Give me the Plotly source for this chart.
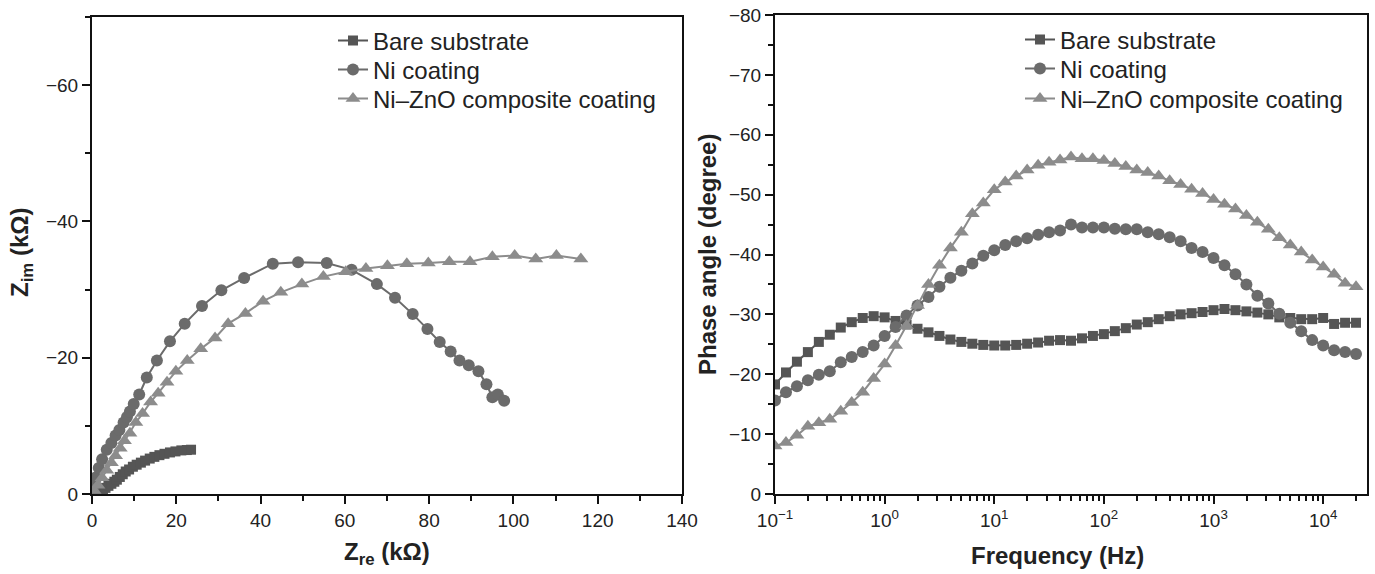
import plotly.graph_objects as go

# ---------------- Data ----------------
# Nyquist plot (kOhm)
bare_zre = [1.2, 1.6, 2.1, 2.6, 3.2, 3.9, 4.6, 5.3, 5.9, 6.6, 7.3, 8.0, 8.8, 9.7, 10.6,
            11.6, 12.6, 13.7, 14.8, 16.0, 17.2, 18.5, 19.8, 21.2, 22.5, 23.5]
bare_zim = [-0.1, -0.25, -0.4, -0.6, -0.9, -1.2, -1.5, -1.8, -2.1, -2.5, -2.9, -3.3, -3.6, -4.0, -4.3,
            -4.6, -4.9, -5.2, -5.45, -5.7, -5.9, -6.1, -6.25, -6.4, -6.45, -6.5]

ni_zre = [0.3, 0.85, 1.6, 2.4, 3.5, 4.6, 5.6, 6.5, 7.5, 8.3, 9.0, 9.9, 11.2, 13.0, 15.4,
          18.5, 22.0, 26.1, 30.7, 36.1, 42.9, 48.9, 55.7, 61.6, 67.6, 71.9, 76.1, 79.6,
          82.5, 85.1, 87.2, 89.4, 91.7, 93.6, 95.0, 96.3, 97.8]
ni_zim = [-1.1, -2.4, -3.8, -5.1, -6.5, -7.5, -8.6, -9.4, -10.5, -11.3, -12.1, -13.2, -14.6, -17.1, -19.6,
          -22.4, -25.0, -27.6, -29.9, -31.7, -33.8, -34.0, -33.9, -32.9, -30.8, -28.8, -26.4, -24.2,
          -22.3, -20.9, -19.6, -18.9, -18.0, -16.1, -14.2, -14.6, -13.7]

zno_zre = [0.5, 1.4, 2.4, 3.5, 4.6, 5.6, 6.7, 7.7, 9.0, 10.4, 12.0, 13.9, 15.7, 17.8, 19.9,
           22.6, 25.8, 29.2, 32.3, 36.4, 40.6, 44.8, 49.8, 54.9, 60.2, 65.0, 70.1, 74.7,
           79.8, 84.8, 89.7, 95.0, 100.3, 105.3, 110.2, 116.0]
zno_zim = [-0.5, -1.3, -2.4, -3.5, -4.6, -5.6, -6.7, -7.8, -8.9, -10.5, -11.8, -13.5, -14.8, -16.4, -18.0,
           -19.6, -21.3, -22.9, -25.0, -26.5, -28.3, -29.6, -30.8, -31.9, -32.6, -33.1, -33.5, -33.8,
           -33.9, -34.1, -34.1, -34.8, -35.0, -34.5, -35.0, -34.5]

# Bode phase plot
freq = [0.1, 0.1259, 0.1585, 0.1995, 0.2512, 0.3162, 0.3981, 0.5012, 0.631, 0.7943,
        1, 1.259, 1.585, 1.995, 2.512, 3.162, 3.981, 5.012, 6.31, 7.943,
        10, 12.59, 15.85, 19.95, 25.12, 31.62, 39.81, 50.12, 63.1, 79.43,
        100, 125.9, 158.5, 199.5, 251.2, 316.2, 398.1, 501.2, 631, 794.3,
        1000, 1259, 1585, 1995, 2512, 3162, 3981, 5012, 6310, 7943,
        10000, 12590, 15850, 19950]

bare_phase = [-18.3, -20.3, -22.1, -23.7, -25.4, -26.6, -27.8, -28.7, -29.4, -29.7,
              -29.5, -28.9, -28.3, -27.6, -27.0, -26.4, -25.8, -25.4, -25.1, -24.9,
              -24.8, -24.8, -24.9, -25.1, -25.3, -25.6, -25.7, -25.6, -26.0, -26.4,
              -26.7, -27.2, -27.7, -28.3, -28.7, -29.2, -29.7, -30.0, -30.2, -30.4,
              -30.7, -30.9, -30.7, -30.5, -30.3, -30.0, -29.5, -29.4, -29.2, -29.2,
              -29.4, -28.4, -28.6, -28.6]
ni_phase = [-15.6, -17.0, -18.0, -19.0, -19.9, -20.5, -22.0, -22.9, -23.7, -24.8,
            -26.4, -27.9, -29.8, -31.5, -32.9, -34.6, -36.1, -37.3, -38.5, -39.8,
            -40.7, -41.6, -42.2, -42.7, -43.3, -43.7, -44.0, -45.0, -44.5, -44.5,
            -44.5, -44.3, -44.2, -44.2, -43.7, -43.4, -42.9, -42.2, -41.1, -40.4,
            -39.4, -38.2, -36.7, -35.0, -33.1, -31.8, -30.1, -28.6, -27.2, -25.7,
            -24.8, -24.0, -23.7, -23.4]
zno_phase = [-8.0, -8.6, -9.8, -11.3, -11.9, -12.5, -13.8, -15.3, -17.0, -19.3,
             -21.7, -24.8, -28.1, -31.5, -35.0, -38.2, -41.1, -43.7, -46.8, -48.6,
             -50.8, -52.1, -53.1, -54.1, -54.9, -55.4, -55.8, -56.3, -56.0, -56.0,
             -55.7, -55.2, -54.7, -54.1, -53.7, -53.1, -52.3, -51.7, -50.9, -50.2,
             -49.2, -48.4, -47.6, -46.5, -45.4, -44.2, -42.8, -41.6, -40.4, -39.1,
             -37.9, -36.7, -35.2, -34.6]

names = ["Bare substrate", "Ni coating", "Ni\u2013ZnO composite coating"]
colors = ["#555555", "#6b6b6b", "#8c8c8c"]
symbols = ["square", "circle", "triangle-up"]
msizes = [10, 12, 13]

x_ticks_freq = [0.1, 1, 10, 100, 1000, 10000]
x_ticklabels_freq = ["10<sup>\u22121</sup>", "10<sup>0</sup>", "10<sup>1</sup>",
                     "10<sup>2</sup>", "10<sup>3</sup>", "10<sup>4</sup>"]

# ---------------- Figure ----------------
W, H = 1375, 574
font_family = "Liberation Sans, Arial, sans-serif"
legend_font = dict(family=font_family, size=24, color="#222222")

fig = go.Figure()
nyq = [(bare_zre, bare_zim), (ni_zre, ni_zim), (zno_zre, zno_zim)]
bode = [bare_phase, ni_phase, zno_phase]

# one legend per entry so that row positions can follow the reference
left_rows = [41, 70, 99]
right_rows = [40, 69, 99]
legend_layouts = {}
for i in range(3):
    key = "legend" if i == 0 else f"legend{i + 1}"
    fig.add_trace(go.Scatter(
        x=nyq[i][0], y=nyq[i][1], mode="lines+markers", name=names[i],
        line=dict(color=colors[i], width=2),
        marker=dict(symbol=symbols[i], size=msizes[i], color=colors[i]),
        xaxis="x", yaxis="y", legend=key))
    legend_layouts[key] = dict(x=333 / W, y=1 - left_rows[i] / H, xanchor="left", yanchor="middle",
                               bgcolor="rgba(0,0,0,0)", font=legend_font, itemsizing="trace")
for i in range(3):
    key = f"legend{i + 4}"
    fig.add_trace(go.Scatter(
        x=freq, y=bode[i], mode="lines+markers", name=names[i],
        line=dict(color=colors[i], width=2),
        marker=dict(symbol=symbols[i], size=msizes[i], color=colors[i]),
        xaxis="x2", yaxis="y2", legend=key))
    legend_layouts[key] = dict(x=1020 / W, y=1 - right_rows[i] / H, xanchor="left", yanchor="middle",
                               bgcolor="rgba(0,0,0,0)", font=legend_font, itemsizing="trace")

tickfont = dict(family=font_family, size=19, color="#222222")
axis_common = dict(showline=True, linecolor="#111111", linewidth=2, mirror=True,
                   ticks="outside", ticklen=8, tickwidth=1.8, tickcolor="#111111",
                   showgrid=False, zeroline=False, tickfont=tickfont, automargin=False)
minor_common = dict(ticks="outside", ticklen=5, tickwidth=1.5, tickcolor="#111111")

fig.update_layout(
    width=W, height=H, autosize=False, margin=dict(l=0, r=0, t=0, b=0, pad=0),
    paper_bgcolor="white", plot_bgcolor="white",
    font=dict(family=font_family, color="#222222"),
    xaxis=dict(domain=[92 / W, 682 / W], range=[0, 140], dtick=20, anchor="y",
               minor=dict(dtick=10, **minor_common), **axis_common),
    yaxis=dict(domain=[1 - 494 / H, 1 - 17 / H], range=[0, -70], dtick=20, anchor="x",
               minor=dict(dtick=10, **minor_common), **axis_common),
    xaxis2=dict(domain=[775 / W, 1367 / W], type="log", range=[-1, 4.4], anchor="y2",
                tickvals=x_ticks_freq, ticktext=x_ticklabels_freq,
                minor=dict(dtick="D1", **minor_common), **axis_common),
    yaxis2=dict(domain=[1 - 494 / H, 1 - 15 / H], range=[0, -80], dtick=10, anchor="x2",
                minor=dict(dtick=5, **minor_common), **axis_common),
    showlegend=True,
    **legend_layouts,
)

title_font = dict(family=font_family, size=24, color="#222222")
ann_common = dict(xref="paper", yref="paper", showarrow=False, font=title_font,
                  xanchor="center", yanchor="middle")
fig.add_annotation(text="<b>Z<sub>im</sub> (k\u03a9)</b>", x=22 / W, y=1 - 252 / H,
                   textangle=-90, **ann_common)
fig.add_annotation(text="<b>Z<sub>re</sub> (k\u03a9)</b>", x=387 / W, y=1 - 553 / H, **ann_common)
fig.add_annotation(text="<b>Phase angle (degree)</b>", x=707 / W, y=1 - 255 / H,
                   textangle=-90, **ann_common)
fig.add_annotation(text="<b>Frequency (Hz)</b>", x=1057 / W, y=1 - 555 / H, **ann_common)

fig.write_html("out.html")
